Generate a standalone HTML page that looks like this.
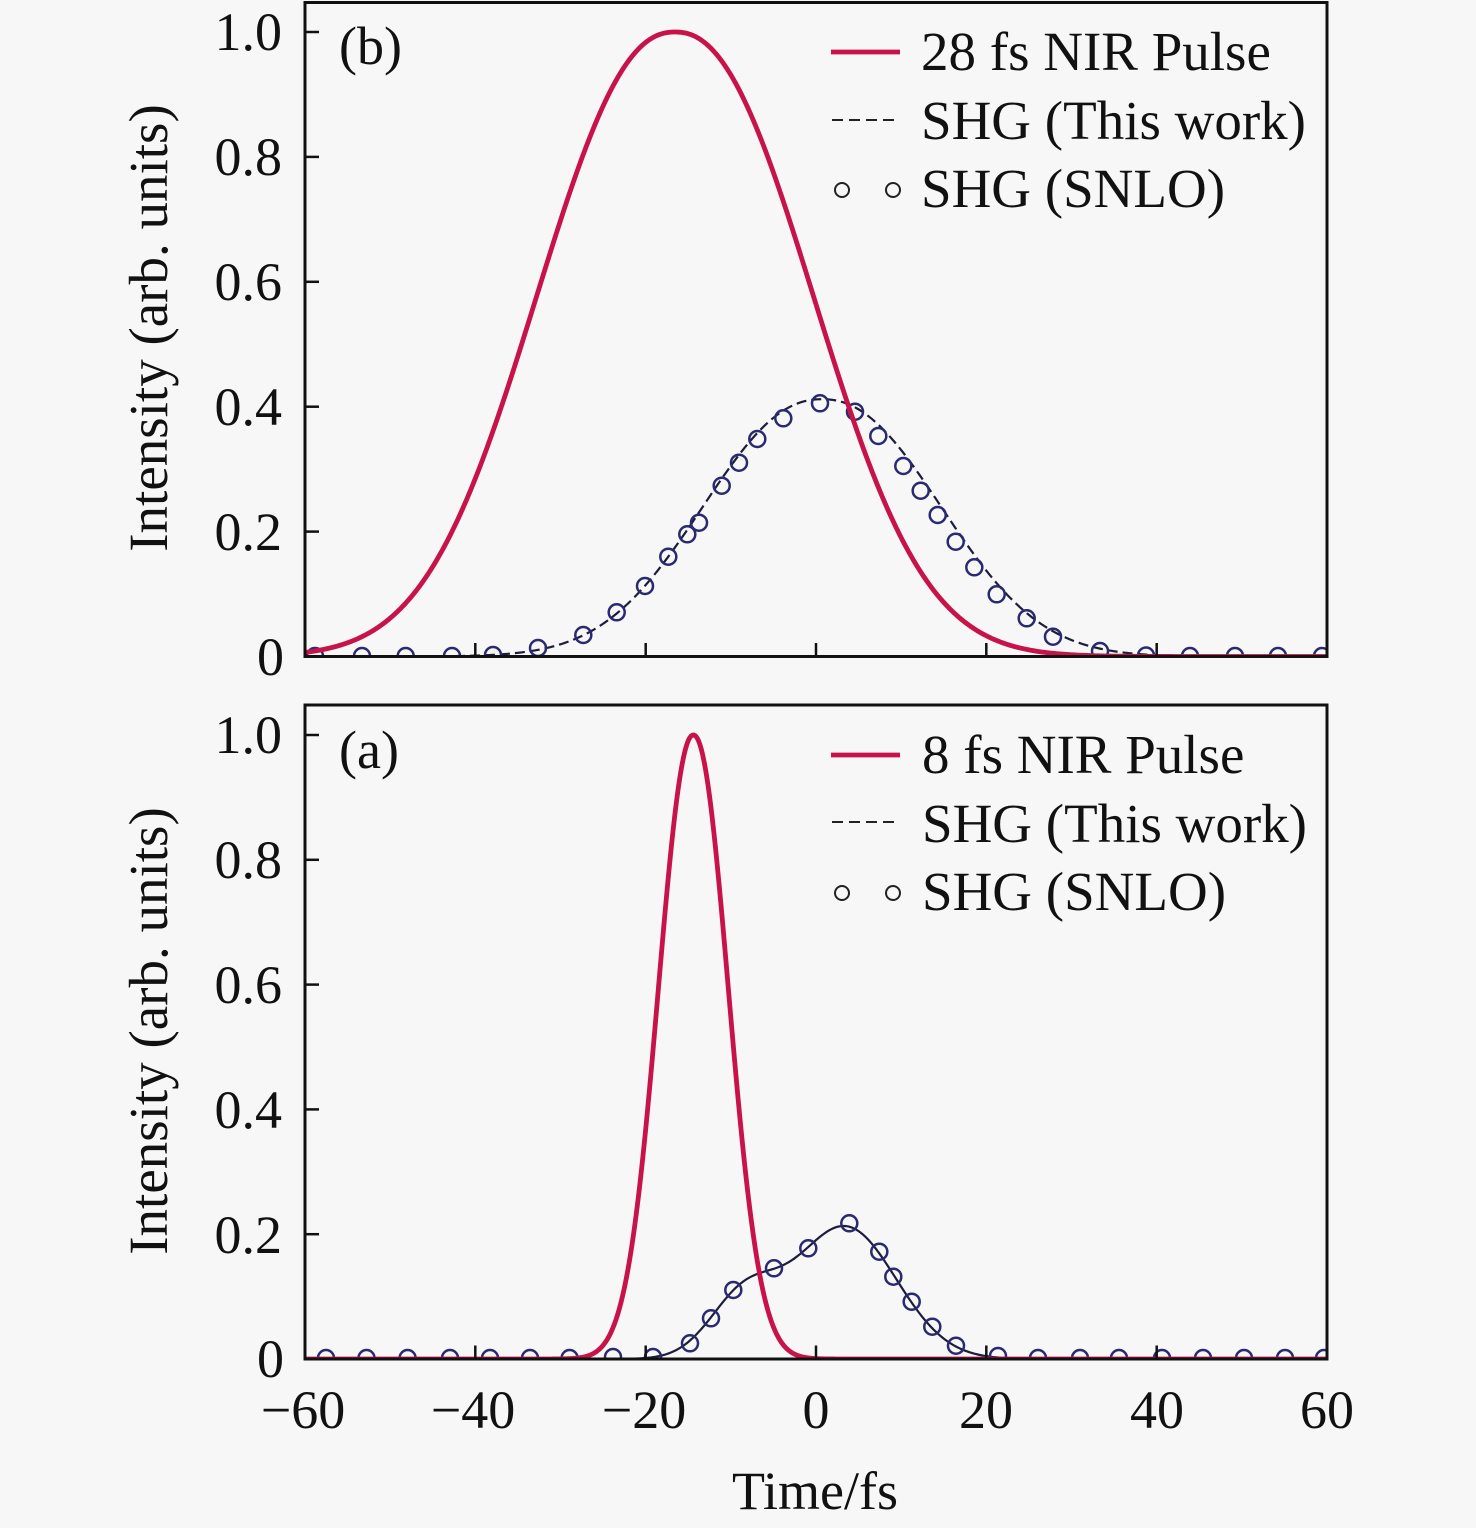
<!DOCTYPE html>
<html>
<head>
<meta charset="utf-8">
<style>
  html,body{margin:0;padding:0;background:#f7f7f7;}
  svg{display:block;}
  text{font-family:"Liberation Serif","Times New Roman",serif;fill:#111;}
</style>
</head>
<body>
<svg id="chart" width="1476" height="1528" viewBox="0 0 1476 1528" xmlns="http://www.w3.org/2000/svg">
  <rect x="0" y="0" width="1476" height="1528" fill="#f7f7f7"/>
  <defs>
    <clipPath id="clipTop"><rect x="305" y="2.5" width="1022" height="654"/></clipPath>
    <clipPath id="clipBot"><rect x="305" y="705" width="1022" height="654"/></clipPath>
  </defs>

  <!-- data layers -->
  <g id="topData" clip-path="url(#clipTop)"></g>
  <g id="botData" clip-path="url(#clipBot)"></g>

  <!-- frames -->
  <rect x="305" y="2.5" width="1022" height="654" fill="none" stroke="#111" stroke-width="3"/>
  <rect x="305" y="705" width="1022" height="654" fill="none" stroke="#111" stroke-width="3"/>

  <!-- ticks -->
  <g stroke="#111" stroke-width="2.5">
    <line x1="305" y1="32" x2="319" y2="32"/>
    <line x1="305" y1="156.9" x2="319" y2="156.9"/>
    <line x1="305" y1="281.8" x2="319" y2="281.8"/>
    <line x1="305" y1="406.7" x2="319" y2="406.7"/>
    <line x1="305" y1="531.6" x2="319" y2="531.6"/>
    <line x1="475.3" y1="656.5" x2="475.3" y2="643"/>
    <line x1="645.7" y1="656.5" x2="645.7" y2="643"/>
    <line x1="816" y1="656.5" x2="816" y2="643"/>
    <line x1="986.3" y1="656.5" x2="986.3" y2="643"/>
    <line x1="1156.7" y1="656.5" x2="1156.7" y2="643"/>
    <line x1="305" y1="735" x2="319" y2="735"/>
    <line x1="305" y1="859.8" x2="319" y2="859.8"/>
    <line x1="305" y1="984.6" x2="319" y2="984.6"/>
    <line x1="305" y1="1109.4" x2="319" y2="1109.4"/>
    <line x1="305" y1="1234.2" x2="319" y2="1234.2"/>
    <line x1="475.3" y1="1359" x2="475.3" y2="1345.5"/>
    <line x1="645.7" y1="1359" x2="645.7" y2="1345.5"/>
    <line x1="816" y1="1359" x2="816" y2="1345.5"/>
    <line x1="986.3" y1="1359" x2="986.3" y2="1345.5"/>
    <line x1="1156.7" y1="1359" x2="1156.7" y2="1345.5"/>
  </g>

  <!-- y tick labels top -->
  <g font-size="54" text-anchor="end">
    <text x="282" y="50">1.0</text>
    <text x="282" y="175">0.8</text>
    <text x="282" y="300">0.6</text>
    <text x="282" y="425">0.4</text>
    <text x="282" y="550">0.2</text>
    <text x="284" y="675">0</text>
  </g>
  <!-- y tick labels bottom -->
  <g font-size="54" text-anchor="end">
    <text x="282" y="753">1.0</text>
    <text x="282" y="878">0.8</text>
    <text x="282" y="1003">0.6</text>
    <text x="282" y="1128">0.4</text>
    <text x="282" y="1253">0.2</text>
    <text x="284" y="1377">0</text>
  </g>

  <!-- x tick labels -->
  <g font-size="54" text-anchor="middle">
    <text x="303" y="1428">−60</text>
    <text x="473" y="1428">−40</text>
    <text x="644" y="1428">−20</text>
    <text x="816" y="1428">0</text>
    <text x="986" y="1428">20</text>
    <text x="1157" y="1428">40</text>
    <text x="1327" y="1428">60</text>
  </g>
  <text x="815" y="1509" font-size="54" text-anchor="middle">Time/fs</text>

  <!-- y axis titles -->
  <text transform="translate(167,328) rotate(-90)" font-size="55" text-anchor="middle">Intensity (arb. units)</text>
  <text transform="translate(167,1031) rotate(-90)" font-size="55" text-anchor="middle">Intensity (arb. units)</text>

  <!-- panel labels -->
  <text x="339" y="64" font-size="54">(b)</text>
  <text x="339" y="768" font-size="54">(a)</text>

  <!-- legend top -->
  <line x1="831" y1="52" x2="900" y2="52" stroke="#c8124a" stroke-width="4.8"/>
  <text x="921" y="70" font-size="55">28 fs NIR Pulse</text>
  <line x1="832" y1="120" x2="900" y2="120" stroke="#222" stroke-width="2" stroke-dasharray="11 6"/>
  <text x="921" y="139" font-size="55">SHG (This work)</text>
  <circle cx="842" cy="190" r="7" fill="none" stroke="#222" stroke-width="2"/>
  <circle cx="893" cy="190" r="7" fill="none" stroke="#222" stroke-width="2"/>
  <text x="921" y="207" font-size="55">SHG (SNLO)</text>

  <!-- legend bottom -->
  <line x1="831" y1="755" x2="900" y2="755" stroke="#c8124a" stroke-width="4.8"/>
  <text x="922" y="773" font-size="55">8 fs NIR Pulse</text>
  <line x1="832" y1="822" x2="900" y2="822" stroke="#222" stroke-width="2" stroke-dasharray="11 6"/>
  <text x="922" y="842" font-size="55">SHG (This work)</text>
  <circle cx="842" cy="893" r="7" fill="none" stroke="#222" stroke-width="2"/>
  <circle cx="893" cy="893" r="7" fill="none" stroke="#222" stroke-width="2"/>
  <text x="922" y="910" font-size="55">SHG (SNLO)</text>
</svg>

<script>
(function(){
  var NS = "http://www.w3.org/2000/svg";
  function X(t){ return 305 + (t + 60) * 8.5167; }
  function Yt(v){ return 656.5 - v * 624.5; }
  function Yb(v){ return 1359 - v * 624; }
  function path(fn, Y, step){
    var d = "";
    for (var t = -60; t <= 60.0001; t += step){
      var v = fn(t);
      d += (d ? " L" : "M") + X(t).toFixed(2) + " " + Y(v).toFixed(2);
    }
    return d;
  }
  function mk(tag, attrs, parent){
    var e = document.createElementNS(NS, tag);
    for (var k in attrs) e.setAttribute(k, attrs[k]);
    parent.appendChild(e);
    return e;
  }
  var topG = document.getElementById("topData");
  var botG = document.getElementById("botData");

  var redTop = function(t){ var d = Math.abs(t + 16.55); return Math.exp(-Math.pow(d / 21.2, 2.25)); };
  var shgTop = function(t){ var d = Math.abs(t - 0.7); return 0.412 * Math.exp(-Math.pow(d / 18.5, 2.2)); };
  var redBot = function(t){ var d = Math.abs(t + 14.4); return Math.exp(-Math.pow(d / 5.6, 2.1)); };
  var shgBot = function(t){
    var d1 = t + 8.5, d2 = t - 3.4;
    return 0.095 * Math.exp(-d1 * d1 / (2 * 4.0 * 4.0)) + 0.212 * Math.exp(-d2 * d2 / (2 * 6.0 * 6.0));
  };

  mk("path", {d: path(shgTop, Yt, 0.2), fill: "none", stroke: "#1c1c3c", "stroke-width": 2.2, "stroke-dasharray": "10 5"}, topG);
  mk("path", {d: path(shgBot, Yb, 0.2), fill: "none", stroke: "#1c1c3c", "stroke-width": 2.2}, botG);

  var cTop = [[315,656],[362,656],[405.7,656],[452,656],[493,655],[538,648],[583.3,635],[616.7,612.3],[645,586],[668.3,556.7],[687.3,534.3],[699,522.7],[721.7,485.7],[739,462.7],[757.3,439],[783.3,418.3],[820,403.3],[855,411.7],[878.3,436],[903.3,466],[920.7,490.7],[937.7,515],[955.7,541.7],[974.3,567.3],[996.7,594.3],[1026.7,618.3],[1053,636.7],[1100,651],[1146,655.5],[1190,656],[1235,656],[1278,656],[1322,656]];
  var cBot = [[326,1358],[366.5,1358],[407.6,1358],[450,1358],[490,1358],[530,1358],[569.6,1358],[613,1357],[653,1357],[690,1343.3],[711,1318.3],[733.3,1290],[774,1268.3],[808.3,1248.3],[849.3,1223.3],[879.3,1251.7],[893.3,1276.7],[911.7,1301.7],[932.3,1326.7],[956,1345.7],[998,1356],[1038,1358],[1080,1358],[1119,1358],[1162,1358],[1203,1358],[1244,1358],[1285,1358],[1324,1358]];
  cTop.forEach(function(p){ mk("circle", {cx: p[0], cy: p[1], r: 8, fill: "none", stroke: "#2a2a72", "stroke-width": 2.5}, topG); });
  cBot.forEach(function(p){ mk("circle", {cx: p[0], cy: p[1], r: 8, fill: "none", stroke: "#2a2a72", "stroke-width": 2.5}, botG); });

  mk("path", {d: path(redTop, Yt, 0.2), fill: "none", stroke: "#c8124a", "stroke-width": 4.8, "stroke-linejoin": "round"}, topG);
  mk("path", {d: path(redBot, Yb, 0.1), fill: "none", stroke: "#c8124a", "stroke-width": 4.8, "stroke-linejoin": "round"}, botG);
})();
</script>
</body>
</html>
